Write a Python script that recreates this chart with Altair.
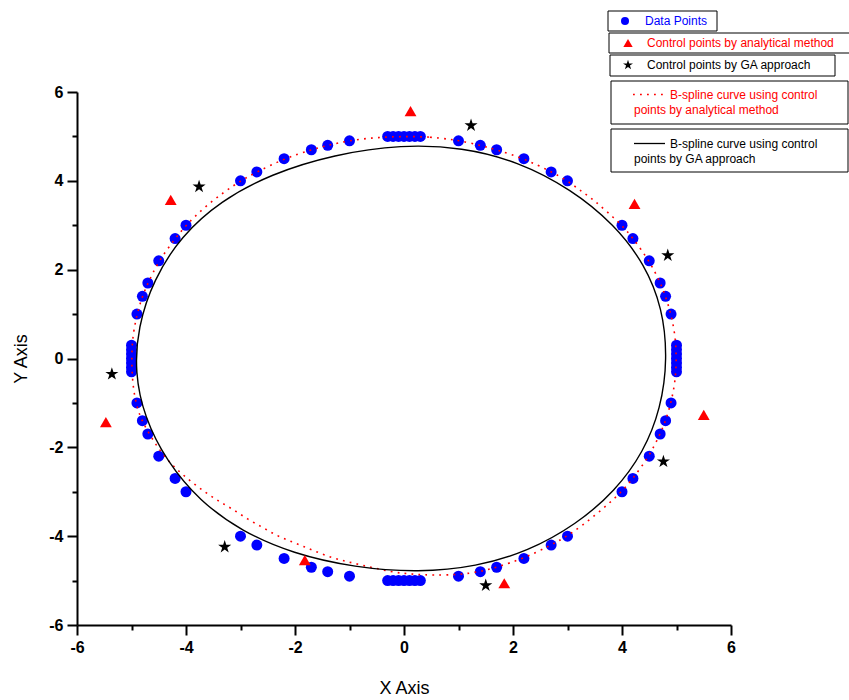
import altair as alt
import pandas as pd

# ---------------- data ----------------
data_x = [-0.3, -0.2, -0.1, 0.0, 0.1, 0.2, 0.3,
          1.0, 1.4, 1.7, 2.2, 2.7, 3.0, 4.0, 4.2, 4.5, 4.7, 4.8, 4.9,
          5.0, 5.0, 5.0, 5.0, 5.0, 5.0, 5.0,
          4.9, 4.8, 4.7, 4.5, 4.2, 4.0, 3.0, 2.7, 2.2, 1.7, 1.4, 1.0,
          0.3, 0.2, 0.1, 0.0, -0.1, -0.2, -0.3,
          -1.0, -1.4, -1.7, -2.2, -2.7, -3.0, -4.0, -4.2, -4.5, -4.7, -4.8, -4.9,
          -5.0, -5.0, -5.0, -5.0, -5.0, -5.0, -5.0,
          -4.9, -4.8, -4.7, -4.5, -4.2, -4.0, -3.0, -2.7, -2.2, -1.7, -1.4, -1.0]
data_y = [5.0, 5.0, 5.0, 5.0, 5.0, 5.0, 5.0,
          4.9, 4.8, 4.7, 4.5, 4.2, 4.0, 3.0, 2.7, 2.2, 1.7, 1.4, 1.0,
          0.3, 0.2, 0.1, 0.0, -0.1, -0.2, -0.3,
          -1.0, -1.4, -1.7, -2.2, -2.7, -3.0, -4.0, -4.2, -4.5, -4.7, -4.8, -4.9,
          -5.0, -5.0, -5.0, -5.0, -5.0, -5.0, -5.0,
          -4.9, -4.8, -4.7, -4.5, -4.2, -4.0, -3.0, -2.7, -2.2, -1.7, -1.4, -1.0,
          -0.3, -0.2, -0.1, 0.0, 0.1, 0.2, 0.3,
          1.0, 1.4, 1.7, 2.2, 2.7, 3.0, 4.0, 4.2, 4.5, 4.7, 4.8, 4.9]

ana_x = [0.12, 4.23, 5.50, 1.84, -1.82, -5.47, -4.28]
ana_y = [5.57, 3.48, -1.27, -5.06, -4.54, -1.43, 3.57]

ga_x = [1.23, 4.84, 4.76, 1.50, -3.29, -5.36, -3.76]
ga_y = [5.25, 2.32, -2.32, -5.11, -4.24, -0.35, 3.87]

red_curve_x = [0.0, 0.5, 0.85, 1.0, 1.4, 1.7, 2.2, 2.7, 3.0, 3.24, 3.48, 3.72, 4.0, 4.2,
               4.5, 4.7, 4.8, 4.9, 4.98, 5.0, 4.98, 4.9, 4.8, 4.7, 4.5, 4.2, 4.0, 3.5,
               3.0, 2.7, 2.2, 1.7, 1.4, 1.0, 0.5, 0.24, 0.0, -0.25, -0.53, -0.79, -1.05,
               -1.29, -1.57, -1.83, -2.09, -2.35, -2.61, -2.87, -3.13, -3.39, -3.65,
               -3.91, -4.17, -4.42, -4.62, -4.79, -4.90, -4.98, -5.0, -4.98, -4.9, -4.8,
               -4.7, -4.5, -4.2, -4.0, -3.68, -3.3, -3.0, -2.7, -2.2, -1.7, -1.4, -1.0,
               -0.5]
red_curve_y = [5.0, 4.99, 4.93, 4.91, 4.8, 4.7, 4.5, 4.21, 4.0, 3.78, 3.57, 3.31, 3.0, 2.71,
               2.2, 1.72, 1.4, 1.0, 0.5, 0.0, -0.5, -1.0, -1.4, -1.7, -2.2, -2.7, -3.0, -3.55,
               -4.0, -4.2, -4.5, -4.7, -4.8, -4.87, -4.88, -4.86, -4.84, -4.80, -4.72, -4.65,
               -4.57, -4.50, -4.37, -4.24, -4.11, -3.98, -3.79, -3.62, -3.40, -3.22, -3.01,
               -2.77, -2.50, -2.18, -1.81, -1.45, -1.12, -0.6, 0.0, 0.5, 1.0, 1.4,
               1.7, 2.2, 2.7, 3.0, 3.39, 3.75, 4.0, 4.2, 4.5, 4.7, 4.8, 4.91,
               4.98]

black_curve_x = [-1.265, -0.061, 1.058, 2.089, 3.035, 3.822, 4.379, 4.705, 4.80, 4.681,
                 4.363, 3.846, 3.13, 2.267, 1.309, 0.255, -0.895, -2.008, -2.95, -3.723,
                 -4.325, -4.728, -4.901, -4.845, -4.56, -4.054, -3.336, -2.407]
black_curve_y = [4.56, 4.770, 4.711, 4.383, 3.785, 2.999, 2.106, 1.107, 0.0, -1.102,
                 -2.089, -2.960, -3.715, -4.298, -4.653, -4.778, -4.675, -4.363, -3.863,
                 -3.173, -2.295, -1.312, -0.309, 0.715, 1.76, 2.726, 3.515, 4.126]

axis_ticks = [-6, -5, -4, -3, -2, -1, 0, 1, 2, 3, 4, 5, 6]

# ---------------- tables ----------------
pts = pd.DataFrame({"x": data_x, "y": data_y})
ana = pd.DataFrame({"x": ana_x, "y": ana_y})
ga = pd.DataFrame({"x": ga_x, "y": ga_y})
red_curve = pd.DataFrame({"x": red_curve_x, "y": red_curve_y, "i": list(range(len(red_curve_x)))})
black_curve = pd.DataFrame({"x": black_curve_x, "y": black_curve_y, "i": list(range(len(black_curve_x)))})
one = pd.DataFrame({"k": [0]})

FONT = "Liberation Sans"
STAR = ("M0,-1L0.225,-0.309L0.951,-0.309L0.363,0.118L0.588,0.809L0,0.382"
        "L-0.588,0.809L-0.363,0.118L-0.951,-0.309L-0.225,-0.309Z")


def make_axis(title, pad):
    return alt.Axis(
        title=title, values=axis_ticks, grid=False,
        domainColor="black", domainWidth=2,
        tickColor="black", tickWidth=2,
        tickSize={"condition": {"test": "datum.value % 2 === 0", "value": 10}, "value": 5},
        labelExpr="datum.value % 2 === 0 ? '' + datum.value : ''",
        labelFont=FONT, labelFontWeight="bold", labelFontSize=16, labelColor="black",
        labelPadding=4, labelFlush=False, labelOverlap=False,
        titleFont=FONT, titleFontWeight="normal", titleFontSize=18, titleColor="black",
        titlePadding=pad,
    )


xs = alt.Scale(domain=[-6, 6], nice=False, zero=False)
ys = alt.Scale(domain=[-6, 6], nice=False, zero=False)
X = alt.X("x:Q", scale=xs, axis=make_axis("X Axis", 24))
Y = alt.Y("y:Q", scale=ys, axis=make_axis("Y Axis", 18))

points_layer = alt.Chart(pts).mark_point(
    shape="circle", filled=True, size=121, color="#0000ff", opacity=1
).encode(x=X, y=Y)

red_line = alt.Chart(red_curve).mark_line(
    interpolate="basis-closed", color="#ff0000", strokeWidth=1.6,
    strokeDash=[1.8, 5.2], strokeCap="butt"
).encode(x=X, y=Y, order="i:Q")

black_line = alt.Chart(black_curve).mark_line(
    interpolate="cardinal-closed", color="black", strokeWidth=1.4
).encode(x=X, y=Y, order="i:Q")

ana_layer = alt.Chart(ana).mark_point(
    shape="triangle-up", filled=True, size=140, color="#ff0000", opacity=1
).encode(x=X, y=Y)

ga_layer = alt.Chart(ga).mark_point(
    shape=STAR, filled=True, size=190, color="black", opacity=1
).encode(x=X, y=Y)

# ---------------- boxed legend (pixel positions relative to the plot) ----------------
legend_layers = []


def box(x1, x2, y1, y2):
    return alt.Chart(one).mark_rect(fill="white", stroke="black", strokeWidth=1).encode(
        x=alt.value(x1), x2=alt.value(x2), y=alt.value(y1), y2=alt.value(y2))


def label(txt, x, y, color):
    return alt.Chart(one).mark_text(
        align="left", baseline="middle", font=FONT, fontSize=12, color=color, text=txt
    ).encode(x=alt.value(x), y=alt.value(y))


legend_layers += [
    box(531, 640, -81, -61),
    box(532, 776, -59, -39),
    box(533, 758, -37, -16),
    box(534, 771, -11, 32),
    box(534, 771, 37, 80),
    alt.Chart(one).mark_point(shape="circle", filled=True, size=64, color="#0000ff", opacity=1)
    .encode(x=alt.value(548), y=alt.value(-71)),
    label("Data Points", 568, -71, "#0000ff"),
    alt.Chart(one).mark_point(shape="triangle-up", filled=True, size=87, color="#ff0000", opacity=1)
    .encode(x=alt.value(551), y=alt.value(-49)),
    label("Control points by analytical method", 570, -49, "#ff0000"),
    alt.Chart(one).mark_point(shape=STAR, filled=True, size=110, color="black", opacity=1)
    .encode(x=alt.value(551), y=alt.value(-27)),
    label("Control points by GA approach", 570, -27, "black"),
    alt.Chart(one).mark_rule(color="#ff0000", strokeWidth=1.6, strokeDash=[1.8, 5.2])
    .encode(x=alt.value(556), x2=alt.value(589), y=alt.value(2.5)),
    label("B-spline curve using control", 593, 2.5, "#ff0000"),
    label("points by analytical method", 557, 18, "#ff0000"),
    alt.Chart(one).mark_rule(color="black", strokeWidth=1.3)
    .encode(x=alt.value(557), x2=alt.value(588), y=alt.value(51.5)),
    label("B-spline curve using control", 593, 51.5, "black"),
    label("points by GA approach", 557, 66.5, "black"),
]

chart = alt.layer(
    points_layer, red_line, black_line, ana_layer, ga_layer, *legend_layers
).properties(
    width=654, height=533,
    autosize=alt.AutoSizeParams(type="none"),
    padding={"left": 77, "top": 92, "right": 118, "bottom": 75},
    background="white",
).configure_view(stroke=None)

chart.save("out.html", embed_options={"renderer": "svg", "actions": False})
